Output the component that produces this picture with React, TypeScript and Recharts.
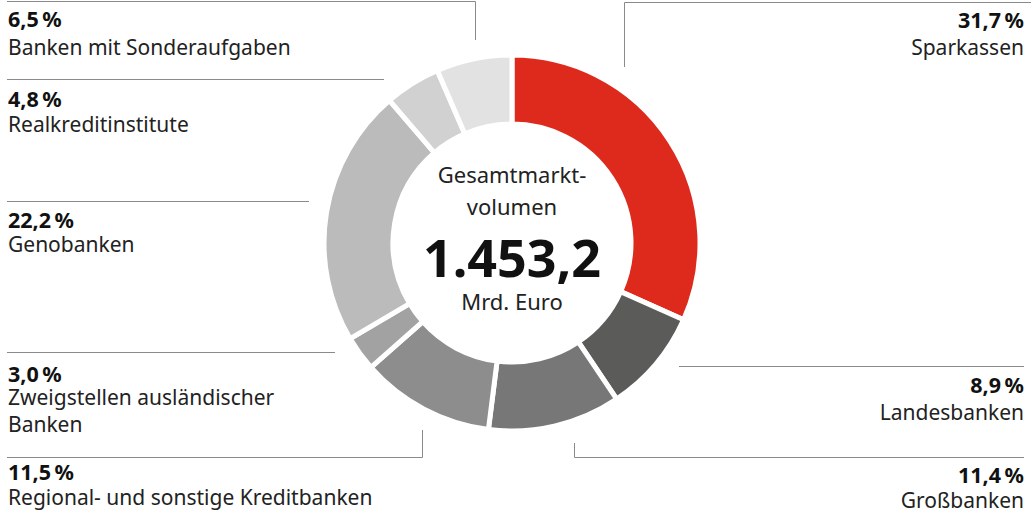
import { PieChart, Pie, Cell } from 'recharts';

const CATEGORIES = [
  'Sparkassen',
  'Landesbanken',
  'Großbanken',
  'Regional- und sonstige Kreditbanken',
  'Zweigstellen ausländischer Banken',
  'Genobanken',
  'Realkreditinstitute',
  'Banken mit Sonderaufgaben',
];
const SHARES = [31.7, 8.9, 11.4, 11.5, 3.0, 22.2, 4.8, 6.5];
const TOTAL_LABEL = '1.453,2';
const UNIT_LABEL = 'Mrd. Euro';
const CENTER_TITLE = ['Gesamtmarkt-', 'volumen'];

const COLORS = ['#dd2a1d', '#5b5b59', '#777777', '#8d8d8d', '#a2a2a2', '#babbba', '#d0d1d0', '#e2e2e2'];

const CX = 512;
const CY = 243;

// label layout per slice: text anchor side, baselines, leader line path
type LabelLayout = { x: number; anchor: 'start' | 'end'; pctY: number; nameY: number[]; line: string };
const LAYOUT: LabelLayout[] = [
  { x: 1024, anchor: 'end', pctY: 28, nameY: [55], line: 'M624.5,67 V2.5 H1031' },
  { x: 1024, anchor: 'end', pctY: 393, nameY: [420], line: 'M679,366.5 H1024' },
  { x: 1024, anchor: 'end', pctY: 483, nameY: [508], line: 'M574.5,443 V457.5 H1024' },
  { x: 8, anchor: 'start', pctY: 480, nameY: [505], line: 'M7,457.5 H422.5 V430' },
  { x: 8, anchor: 'start', pctY: 382, nameY: [405, 432], line: 'M7,352.5 H335' },
  { x: 8, anchor: 'start', pctY: 228, nameY: [252], line: 'M7,201.5 H309' },
  { x: 8, anchor: 'start', pctY: 107, nameY: [132], line: 'M7,79.5 H384' },
  { x: 8, anchor: 'start', pctY: 27, nameY: [55], line: 'M7,1.5 H475.5 V40' },
];

const FONT = '"Noto Sans", "Open Sans", sans-serif';

const data = CATEGORIES.map((name, i) => ({ name, value: SHARES[i] }));

function fmtPct(v: number) {
  return `${v.toFixed(1).replace('.', ',')}\u2009%`;
}

function renderLabel(props: any) {
  const { index } = props;
  const l = LAYOUT[index];
  const names = index === 4 ? ['Zweigstellen ausländischer', 'Banken'] : [CATEGORIES[index]];
  return (
    <g key={`lbl-${index}`}>
      <path d={l.line} fill="none" stroke="#8a8a8a" strokeWidth={1} />
      <text x={l.x} y={l.pctY} textAnchor={l.anchor} fontFamily={FONT} fontSize={21.5} fontWeight={700} fill="#111">
        {fmtPct(SHARES[index])}
      </text>
      {names.map((n, j) => (
        <text key={j} x={l.x} y={l.nameY[j]} textAnchor={l.anchor} fontFamily={FONT} fontSize={21} fill="#222">
          {n}
        </text>
      ))}
    </g>
  );
}

function CenterText() {
  return (
    <svg
      width={1031}
      height={517}
      style={{ position: 'absolute', left: 0, top: 0, pointerEvents: 'none' }}
    >
      <g fontFamily={FONT} textAnchor="middle">
        <text x={CX} y={CY - 60} fontSize={22} fill="#222">{CENTER_TITLE[0]}</text>
        <text x={CX} y={CY - 28} fontSize={22} fill="#222">{CENTER_TITLE[1]}</text>
        <text x={CX} y={CY + 34} fontSize={52} fontWeight={700} fill="#111">{TOTAL_LABEL}</text>
        <text x={CX} y={CY + 67} fontSize={22} fill="#222">{UNIT_LABEL}</text>
      </g>
    </svg>
  );
}

export default function App() {
  return (
    <div style={{ position: 'absolute', left: 0, top: 0, width: 1031, height: 517, background: '#fff' }}>
      <PieChart width={1031} height={517} margin={{ top: 0, right: 0, bottom: 0, left: 0 }}>
        <Pie
          data={data}
          dataKey="value"
          nameKey="name"
          cx={CX}
          cy={CY}
          innerRadius={119}
          outerRadius={188}
          startAngle={90}
          endAngle={-270}
          stroke="#fff"
          strokeWidth={5}
          label={renderLabel}
          labelLine={false}
          isAnimationActive={false}
        >
          {data.map((d, i) => (
            <Cell key={d.name} fill={COLORS[i]} />
          ))}
        </Pie>
      </PieChart>
      <CenterText />
    </div>
  );
}
